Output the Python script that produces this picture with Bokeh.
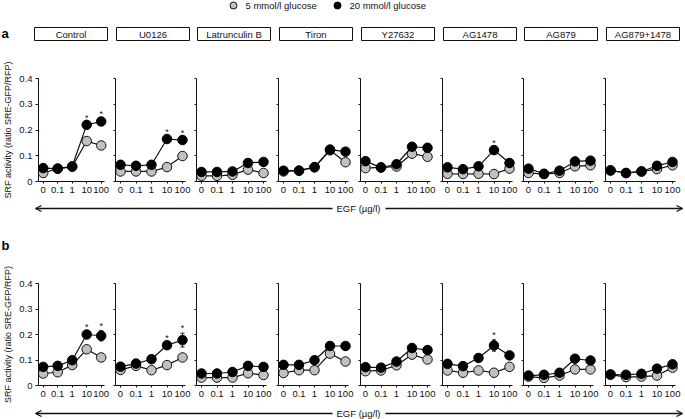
from bokeh.plotting import figure
from bokeh.layouts import row, column
from bokeh.models import ColumnDataSource, FixedTicker, Range1d, Arrow, OpenHead, Whisker, TeeHead
from bokeh.core.properties import value
from bokeh.embed import file_html
from bokeh.resources import INLINE

# ---------------- data ----------------
conditions = ["Control", "U0126", "Latrunculin B", "Tiron", "Y27632", "AG1478", "AG879", "AG879+1478"]
egf_labels = ["0", "0.1", "1", "10", "100"]
series_names = ["5 mmol/l glucose", "20 mmol/l glucose"]
panel_letters = ["a", "b"]

a_low = [
    [0.033, 0.050, 0.057, 0.157, 0.140],
    [0.039, 0.039, 0.039, 0.056, 0.099],
    [0.022, 0.022, 0.026, 0.046, 0.033],
    [0.039, 0.042, 0.055, 0.121, 0.075],
    [0.052, 0.055, 0.058, 0.108, 0.096],
    [0.030, 0.029, 0.030, 0.029, 0.050],
    [0.033, 0.029, 0.033, 0.059, 0.063],
    [0.043, 0.033, 0.039, 0.048, 0.063],
]
a_high = [
    [0.052, 0.050, 0.059, 0.220, 0.233],
    [0.065, 0.061, 0.065, 0.165, 0.161],
    [0.037, 0.037, 0.039, 0.072, 0.076],
    [0.042, 0.042, 0.056, 0.124, 0.116],
    [0.079, 0.054, 0.067, 0.135, 0.131],
    [0.055, 0.048, 0.059, 0.122, 0.072],
    [0.050, 0.030, 0.042, 0.078, 0.081],
    [0.043, 0.033, 0.039, 0.061, 0.076],
]
a_high_err = [
    [0, 0, 0, 0.008, 0.008],
    [0, 0, 0, 0.008, 0.008],
    [0, 0, 0, 0, 0],
    [0, 0, 0, 0, 0],
    [0, 0, 0, 0, 0],
    [0, 0, 0, 0.008, 0],
    [0, 0, 0, 0, 0],
    [0, 0, 0, 0, 0],
]
b_low = [
    [0.047, 0.052, 0.080, 0.142, 0.110],
    [0.061, 0.077, 0.060, 0.080, 0.110],
    [0.031, 0.031, 0.031, 0.048, 0.041],
    [0.049, 0.060, 0.060, 0.125, 0.094],
    [0.056, 0.059, 0.079, 0.121, 0.102],
    [0.059, 0.050, 0.059, 0.050, 0.073],
    [0.035, 0.030, 0.039, 0.063, 0.063],
    [0.043, 0.033, 0.035, 0.039, 0.070],
]
b_high = [
    [0.073, 0.077, 0.099, 0.200, 0.195],
    [0.074, 0.086, 0.103, 0.158, 0.178],
    [0.047, 0.047, 0.053, 0.077, 0.073],
    [0.081, 0.081, 0.099, 0.155, 0.155],
    [0.072, 0.070, 0.094, 0.147, 0.139],
    [0.085, 0.076, 0.108, 0.157, 0.118],
    [0.039, 0.042, 0.050, 0.105, 0.098],
    [0.043, 0.042, 0.046, 0.066, 0.083],
]
b_high_err = [
    [0, 0, 0, 0.010, 0.020],
    [0, 0, 0, 0.010, 0.027],
    [0, 0, 0, 0, 0],
    [0, 0, 0, 0, 0],
    [0, 0, 0, 0, 0],
    [0, 0, 0, 0.022, 0],
    [0, 0, 0, 0, 0],
    [0, 0, 0, 0, 0],
]
# indices of EGF doses marked significant (*) for 20 mmol/l glucose
a_stars = [[3, 4], [3, 4], [], [], [], [3], [], []]
b_stars = [[3, 4], [3, 4], [], [], [], [3], [], []]

y_ticks = [0, 0.1, 0.2, 0.3, 0.4]
y_tick_labels = ["0", "0.1", "0.2", "0.3", "0.4"]
y_title = "SRF activity (ratio SRE-GFP/RFP)"
x_title = "EGF (\u00b5g/l)"

# ---------------- style / layout ----------------
FONT = "Liberation Sans"
INK = "#111111"
GRAY = "#c0c0c0"
Y_MAX = 0.4
SX = 15.5           # px per EGF category step
X0 = -5 / SX        # frame starts 5px left of first category
TOTAL_W = 685
AXIS_X = [round(33 + k * 81.7) for k in range(len(conditions))]


def base_fig(width, height, xr, yr, **kw):
    f = figure(width=width, height=height, x_range=xr, y_range=yr,
               output_backend="svg", toolbar_location=None, **kw)
    f.outline_line_color = None
    f.background_fill_color = "white"
    f.border_fill_color = "white"
    f.title.visible = False
    f.grid.visible = False
    return f


def strip(height):
    # page-pixel strip (y grows downward) for legend, headers, letters and arrows
    return base_fig(TOTAL_W, height, Range1d(0, TOTAL_W), Range1d(height, 0),
                    x_axis_type=None, y_axis_type=None, min_border=0)


def make_panel(i, low, high, err, stars, top_b, frame_h, bottom):
    first = i == 0
    left = AXIS_X[0] if first else 4
    start = 0 if first else AXIS_X[i] - 4
    end = AXIS_X[i + 1] - 4 if i + 1 < len(AXIS_X) else TOTAL_W
    width = end - start
    frame_w = width - left
    sy = frame_h / Y_MAX
    p = base_fig(width, top_b + frame_h + bottom,
                 Range1d(X0, X0 + frame_w / SX), Range1d(0, Y_MAX),
                 min_border_left=left, min_border_right=0,
                 min_border_top=top_b, min_border_bottom=bottom)
    xs = list(range(len(egf_labels)))

    # x axis
    xa = p.xaxis[0]
    xa.ticker = FixedTicker(ticks=xs)
    xa.major_label_overrides = {k: lab for k, lab in enumerate(egf_labels)}
    xa.bounds = (X0, 4.2)
    xa.major_tick_out = 2
    xa.major_tick_in = 0
    xa.minor_tick_line_color = None
    xa.major_label_standoff = 3
    xa.major_label_text_font = FONT
    xa.major_label_text_font_size = "9.5px"
    xa.major_label_text_color = INK
    xa.axis_line_color = INK
    xa.major_tick_line_color = INK

    # y axis
    ya = p.yaxis[0]
    ya.axis_line_color = INK
    ya.major_tick_in = 0
    ya.minor_tick_in = 0
    if first:
        ya.ticker = FixedTicker(ticks=y_ticks)
        ya.major_label_overrides = {t: lab for t, lab in zip(y_ticks, y_tick_labels)}
        ya.major_tick_out = 3
        ya.major_label_standoff = 3
        ya.major_label_text_font = FONT
        ya.major_label_text_font_size = "9.5px"
        ya.major_label_text_color = INK
        ya.major_tick_line_color = INK
        ya.minor_tick_line_color = None
        ya.axis_label = y_title
        ya.axis_label_standoff = 3
        ya.axis_label_text_font = FONT
        ya.axis_label_text_font_size = "9px"
        ya.axis_label_text_font_style = "normal"
        ya.axis_label_text_color = INK
    else:
        # unlabeled panels: tick marks only (drawn as minor ticks)
        ya.ticker = FixedTicker(ticks=[], minor_ticks=y_ticks)
        ya.minor_tick_out = 2
        ya.minor_tick_line_color = INK
        ya.major_label_standoff = 0

    # error bars
    ex = [x for x, e in zip(xs, err) if e > 0]
    if ex:
        src = ColumnDataSource(dict(
            x=ex,
            lower=[high[x] - err[x] for x in ex],
            upper=[high[x] + err[x] for x in ex]))
        w = Whisker(source=src, base="x", lower="lower", upper="upper",
                    line_color=INK, line_width=1, level="underlay",
                    upper_head=TeeHead(size=4, line_color=INK),
                    lower_head=TeeHead(size=4, line_color=INK))
        p.add_layout(w)

    # series
    p.line(xs, low, line_color=INK, line_width=1.2)
    p.scatter(xs, low, size=9.5, fill_color=GRAY, line_color=INK, line_width=1)
    p.line(xs, high, line_color=INK, line_width=1.2)
    p.scatter(xs, high, size=9.5, fill_color="#000000", line_color="#000000", line_width=1)

    if stars:
        p.text(x=stars, y=[high[s] + err[s] for s in stars], text=["*"] * len(stars),
               text_font=value(FONT), text_font_size="9px", text_align="center",
               text_baseline="alphabetic", y_offset=-5, text_color=INK)
    return p


def make_row(lows, highs, errs, stars, top_b, frame_h, bottom):
    figs = [make_panel(i, lows[i], highs[i], errs[i], stars[i], top_b, frame_h, bottom)
            for i in range(len(conditions))]
    return row(*figs, spacing=0)


def add_letter(f, letter, y):
    f.text(x=[1], y=[y], text=[letter], text_font=value(FONT),
           text_font_size="13px", text_font_style="bold",
           text_align="left", text_baseline="middle", text_color="#000000")


def add_arrow(f, y):
    f.add_layout(Arrow(end=OpenHead(size=6, line_width=1.3, line_color=INK),
                       x_start=332, y_start=y, x_end=35, y_end=y,
                       line_width=1.3, line_color=INK))
    f.add_layout(Arrow(end=OpenHead(size=6, line_width=1.3, line_color=INK),
                       x_start=385, y_start=y, x_end=682, y_end=y,
                       line_width=1.3, line_color=INK))
    f.text(x=[358], y=[y], text=[x_title], text_font=value(FONT), text_font_size="9.5px",
           text_align="center", text_baseline="middle", text_color=INK)


# --- top strip: legend, letter a, header boxes (page y 0..44)
top = strip(44)
top.scatter([233], [5], size=7, fill_color=GRAY, line_color=INK, line_width=1)
top.scatter([337], [5], size=7, fill_color="#000000", line_color="#000000")
top.text(x=[245, 349], y=[5, 5], text=series_names, text_font=value(FONT),
         text_font_size="9.5px", text_align="left", text_baseline="middle",
         text_color=INK)
add_letter(top, panel_letters[0], 33)
top.quad(left=[ax + 1 for ax in AXIS_X], right=[ax + 74 for ax in AXIS_X],
         top=[27] * len(AXIS_X), bottom=[40] * len(AXIS_X),
         fill_color="white", line_color=INK, line_width=1)
top.text(x=[ax + 37.5 for ax in AXIS_X], y=[33.5] * len(AXIS_X), text=conditions,
         text_font=value(FONT), text_font_size="9.5px",
         text_align="center", text_baseline="middle", text_color=INK)

# --- row a: page y 44..199, frame (0..0.4) at 78..181
row_a = make_row(a_low, a_high, a_high_err, a_stars, 34, 103, 18)

# --- middle strip: arrow a, letter b (page y 199..255)
mid = strip(56)
add_arrow(mid, 9)
add_letter(mid, panel_letters[1], 46)

# --- row b: page y 255..405, frame (0..0.4) at 283..385
row_b = make_row(b_low, b_high, b_high_err, b_stars, 28, 102, 20)

# --- bottom strip: arrow b (page y 405..419)
bot = strip(14)
add_arrow(bot, 8)

layout = column(top, row_a, mid, row_b, bot, spacing=0)

open("out.html", "w").write(file_html(layout, INLINE))
